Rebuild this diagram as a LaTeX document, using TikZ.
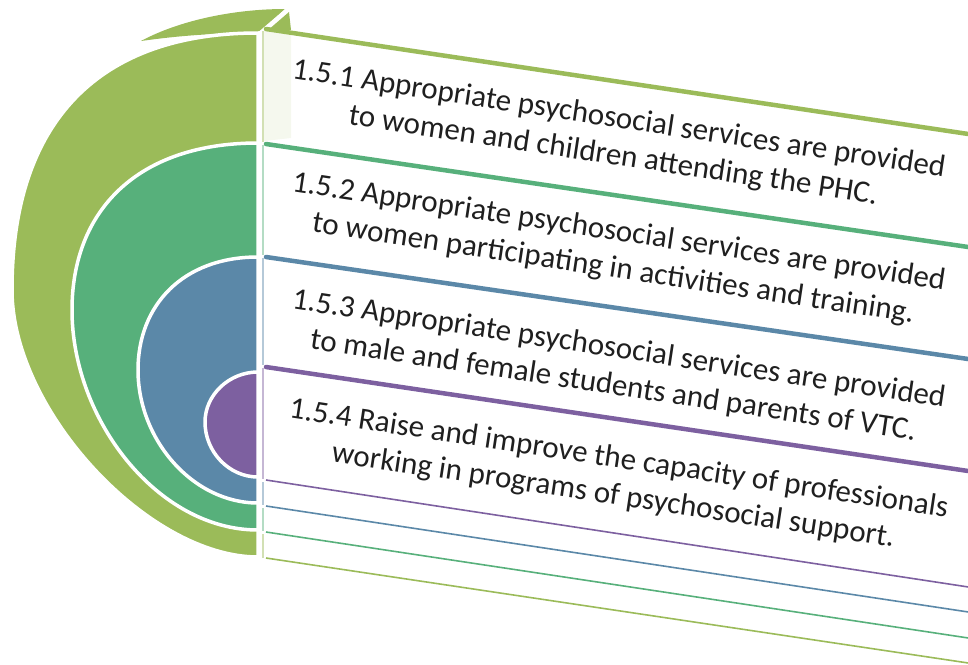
\documentclass[tikz,border=0pt]{standalone}
\usepackage{fontspec}
\setmainfont{Carlito}
\usetikzlibrary{positioning}
\usepackage{xcolor}
\definecolor{ringA}{HTML}{9BBB59}
\definecolor{ringB}{HTML}{57B07B}
\definecolor{ringC}{HTML}{5B88A8}
\definecolor{ringD}{HTML}{7D60A0}

\begin{document}
\begin{tikzpicture}[x=1pt,y=-1pt,
		ring/.style={draw=white,line width=3.5pt},
		band/.style={line width=4.5pt,line cap=round},
		rule/.style={line width=1.6pt},
		edge/.style={line width=1.2pt},
		item/.style={rotate=-8.6,align=center,text=black!88,
			font=\fontsize{31}{37}\selectfont}]
	\useasboundingbox (0,0) rectangle (968,664);

	% top face of the outer ring
	\fill[ringA] (141,41) .. controls (180,20) and (235,9) .. (285,9) -- (259,33) .. controls (205,33) and (170,37) .. (141,41) -- cycle;
	\fill[ringA] (289,12) -- (291,30) -- (267,31) -- cycle;
	\fill[ringA!10] (264,31) -- (291,31) -- (291,138) -- (264,141) -- cycle;

	% nested half discs
	\filldraw[ring, fill=ringA] (258,33) .. controls (100,33) and (12,120) .. (12,290)
		.. controls (12,410) and (148,557) .. (258,557) -- cycle;
	\filldraw[ring, fill=ringB] (258,143) .. controls (138,143) and (72,210) .. (72,310)
		.. controls (72,420) and (158,530) .. (258,530) -- cycle;
	\filldraw[ring, fill=ringC] (258,257) .. controls (183,257) and (138,305) .. (138,370)
		.. controls (138,440) and (193,503) .. (258,503) -- cycle;
	\filldraw[ring, fill=ringD] (258,372) .. controls (229,372) and (205,395) .. (205,422)
		.. controls (205,452) and (229,477) .. (258,477) -- cycle;
	\draw[white, line width=2.5pt] (258,34) -- (286,10);

	% side edge of the panel
	\draw[edge, ringA!45] (263,31) -- (263,142);
	\draw[edge, ringB!45] (263,145) -- (263,255);
	\draw[edge, ringC!45] (263,258) -- (263,365);
	\draw[edge, ringD!45] (263,368) -- (263,479);
	\draw[edge, ringC!45] (263,482) -- (263,505);
	\draw[edge, ringB!45] (263,508) -- (263,531);
	\draw[edge, ringA!45] (263,534) -- (263,558);

	% panel lines
	\draw[band, ringA] (266,29) -- (975,135);
	\draw[band, ringB] (266,144) -- (975,248);
	\draw[band, ringC] (266,257) -- (975,360);
	\draw[band, ringD] (266,367) -- (975,472);
	\draw[rule, ringD] (266,480) -- (975,588);
	\draw[rule, ringC] (266,506) -- (975,613);
	\draw[rule, ringB] (266,532) -- (975,639);
	\draw[rule, ringA] (266,558) -- (975,664);

	\node[item] (out1) at (616,138) {1.5.1 Appropriate psychosocial services are provided\\to women and children attending the PHC.};
	\node[item] (out2) at (616,251) {1.5.2 Appropriate psychosocial services are provided\\to women participating in activities and training.};
	\node[item] (out3) at (616,368) {1.5.3 Appropriate psychosocial services are provided\\to male and female students and parents of VTC.};
	\node[item] (out4) at (616,478) {1.5.4 Raise and improve the capacity of professionals\\working in programs of psychosocial support.};
\end{tikzpicture}
\end{document}
